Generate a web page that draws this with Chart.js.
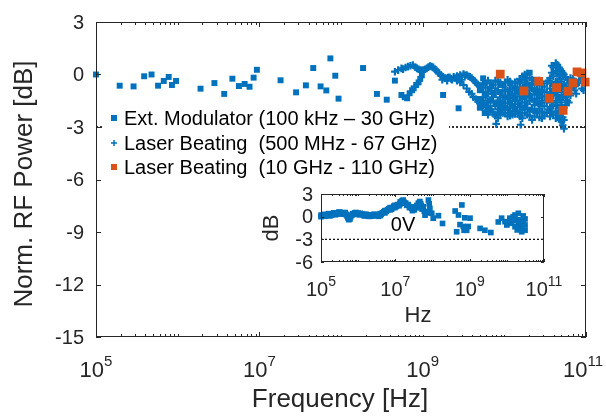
<!DOCTYPE html>
<html><head><meta charset="utf-8">
<script src="https://cdn.jsdelivr.net/npm/chart.js@4.4.0/dist/chart.umd.min.js"></script>
<style>
html,body{margin:0;padding:0;background:#fff;}
#wrap{position:relative;width:606px;height:417px;overflow:hidden;}
#main{position:absolute;left:0;top:0;}
#inset{position:absolute;left:260px;top:180px;}
</style></head><body>
<div id="wrap"><canvas id="main" width="606" height="417"></canvas><canvas id="inset" width="310" height="155"></canvas></div>
<script>
// ---------- DATA (frequency as log10(Hz), power in dB) ----------
const xTickExps = [5, 7, 9, 11];
const yTicksMain = [3, 0, -3, -6, -9, -12, -15];
const yTicksInset = [3, 0, -3, -6];
const refLevel = -3;
const legendLabels = ["Ext. Modulator (100 kHz \u2013 30 GHz)", "Laser Beating  (500 MHz - 67 GHz)", "Laser Beating  (10 GHz - 110 GHz)"];
const xTitle = "Frequency [Hz]";
const yTitle = "Norm. RF Power [dB]";
const insetXTitle = "Hz";
const insetYTitle = "dB";
const insetNote = "0V";

const extMod = [
[5.00,0.0],[5.29,-0.64],[5.46,-0.68],[5.59,-0.10],[5.68,0.0],[5.76,-0.64],[5.83,-0.37],[5.89,-0.14],[5.93,-0.6],[5.98,-0.37],
[6.28,-0.81],[6.45,-0.49],[6.57,-1.11],[6.67,-0.24],[6.75,-0.66],[6.82,-0.54],[6.88,-0.70],[6.93,-0.18],[6.97,0.27],
[7.26,-0.33],[7.45,-1.02],[7.57,-0.62],[7.66,0.37],[7.75,-0.68],[7.82,-0.91],[7.87,0.92],[7.93,-0.07],[7.97,-1.38],
[8.27,0.37],[8.44,-1.11],[8.56,-1.44],[8.66,-0.35],
[8.74,-1.17],[8.78,-1.3],[8.81,-1.36],[8.84,-1.07],[8.87,-0.9],[8.89,-0.79],[8.92,-0.6],[8.95,-0.45],[8.97,-0.25],[8.99,-0.05],
[9.25,-1.17],[9.44,-1.93],[9.74,-0.22],[9.87,-1.13],[9.99,-0.6],
[9.70,-0.9],[9.70,-1.4],[9.70,-1.9],
[9.76,-0.5],[9.76,-1.2],[9.76,-1.7],[9.76,-2.2],
[9.82,-0.8],[9.82,-1.5],[9.82,-2.0],
[9.89,-1.6],[9.89,-2.3],
[9.95,-0.6],[9.95,-1.0],[9.95,-1.8],[9.95,-2.1],
[10.01,-1.3],[10.01,-1.9],
[10.07,-0.5],[10.07,-1.1],[10.07,-1.6],[10.07,-2.2],
[10.13,-0.8],[10.13,-1.4],[10.13,-2.0],
[10.19,-0.4],[10.19,-1.0],[10.19,-1.7],[10.19,-2.3],
[10.25,-0.2],[10.25,-0.7],[10.25,-1.3],[10.25,-1.9],
[10.31,0.1],[10.31,-0.6],[10.31,-1.2],[10.31,-2.0],
[10.38,-0.3],[10.38,-0.9],[10.38,-1.5],[10.38,-2.1],
[10.44,-0.5],[10.44,-1.1],[10.44,-1.7]
];

const beat67 = [
[8.66,0.16],[8.70,0.25],[8.74,0.35],[8.76,0.31],[8.79,0.40],[8.82,0.45],[8.85,0.5],[8.88,0.54],[8.91,0.42],[8.93,0.35],
[8.95,0.3],[8.97,0.26],[8.99,0.24],[9.01,0.26],[9.03,0.3],[9.05,0.35],[9.07,0.42],[9.09,0.49],[9.11,0.45],[9.13,0.41],
[9.15,0.3],[9.17,0.22],[9.19,0.12],[9.20,0.07],[9.22,-0.05],[9.25,-0.13],[9.27,-0.2],[9.29,-0.22],[9.31,-0.18],[9.33,-0.16],
[9.35,-0.25],[9.38,-0.13],[9.40,-0.2],[9.42,-0.09],[9.44,-0.15],[9.46,-0.03],[9.48,-0.1],[9.50,0.03],[9.52,-0.05],[9.54,-0.03],
[9.56,-0.1],[9.58,-0.13],[9.60,-0.2],[9.62,-0.31],[9.64,-0.4],[9.66,-0.5],[9.68,-0.6],[9.70,-0.7],
[9.24,-0.3],[9.30,-0.35],[9.36,-0.3],[9.42,-0.35],[9.48,-0.3],
[9.46,-0.45],[9.50,-0.6],[9.54,-0.8],[9.57,-1.0],[9.60,-1.1],[9.62,-1.29],[9.65,-1.4],[9.68,-1.55],[9.70,-1.65],
[9.74,-1.75],[9.78,-1.86],[9.82,-2.0],[9.86,-2.15],[9.90,-2.82],
[9.74,-0.5],[9.74,-1.0],[9.74,-1.5],
[9.77,-0.75],[9.77,-1.25],[9.77,-2.05],
[9.80,-0.35],[9.80,-1.1],[9.80,-1.8],[9.80,-2.3],
[9.83,-0.5],[9.83,-0.95],[9.83,-1.55],[9.83,-2.1],
[9.86,-0.6],[9.86,-1.3],
[9.89,-0.35],[9.89,-0.8],[9.89,-1.1],[9.89,-1.8],[9.89,-2.35],
[9.92,-0.4],[9.92,-0.9],[9.92,-1.5],[9.92,-2.0],[9.92,-2.5],
[9.95,-0.45],[9.95,-1.3],[9.95,-1.55],[9.95,-2.3],
[9.98,-0.7],[9.98,-1.2],[9.98,-1.6],[9.98,-2.2],
[10.01,-0.45],[10.01,-0.95],[10.01,-1.65],[10.01,-2.2],
[10.04,-0.3],[10.04,-0.9],[10.04,-1.4],[10.04,-2.0],[10.04,-2.4],
[10.07,-0.4],[10.07,-0.85],[10.07,-1.35],[10.07,-1.9],[10.07,-2.35],
[10.10,-0.7],[10.10,-1.2],[10.10,-1.8],[10.10,-2.3],
[10.13,-0.45],[10.13,-1.1],[10.13,-1.7],[10.13,-2.25],
[10.16,-0.5],[10.16,-1.0],[10.16,-1.5],[10.16,-2.1],[10.20,-2.87],
[10.19,-0.25],[10.19,-0.75],[10.19,-1.25],[10.19,-1.85],[10.19,-2.4],
[10.22,-0.1],[10.22,-0.8],[10.22,-1.4],[10.22,-2.0],[10.22,-2.5],
[10.25,0.0],[10.25,-0.45],[10.25,-1.0],[10.25,-1.6],[10.25,-2.2],
[10.28,0.05],[10.28,-0.5],[10.28,-1.1],[10.28,-1.7],[10.28,-2.3],
[10.31,-0.2],[10.31,-0.9],[10.31,-1.5],[10.31,-2.35],
[10.34,-0.3],[10.34,-0.8],[10.34,-1.4],[10.34,-2.0],[10.34,-2.6],
[10.37,-0.55],[10.37,-1.15],[10.37,-1.75],[10.37,-2.4],
[10.40,-0.6],[10.40,-1.1],[10.40,-1.6],[10.40,-2.2],
[10.43,-0.35],[10.43,-0.85],[10.43,-1.35],[10.43,-1.95],[10.43,-2.45],
[10.46,-0.4],[10.46,-0.9],[10.46,-1.5],[10.46,-2.1],[10.46,-2.5],
[10.49,-0.7],[10.49,-1.25],[10.49,-1.8],[10.49,-2.35],
[10.52,-0.5],[10.52,-1.0],[10.52,-1.6],[10.52,-2.2],
[10.54,-0.35],[10.54,-1.3],[10.54,-2.0],
[10.56,-0.2],[10.56,-0.8],[10.56,-1.3],[10.56,-1.9],[10.56,-2.4],
[10.58,0.5],[10.58,0.1],[10.58,-0.5],[10.58,-1.05],[10.58,-1.6],[10.58,-2.15],
[10.60,0.4],[10.60,-0.1],[10.60,-0.6],[10.60,-1.2],[10.60,-1.8],[10.60,-2.3],
[10.63,0.65],[10.63,0.2],[10.63,-0.4],[10.63,-1.0],[10.63,-1.5],[10.63,-2.1],[10.63,-2.5],
[10.65,0.55],[10.65,0.05],[10.65,-0.45],[10.65,-1.2],[10.65,-1.75],[10.65,-2.3],
[10.67,0.4],[10.67,-0.1],[10.67,-0.7],[10.67,-1.3],[10.67,-1.9],[10.67,-2.4],
[10.685,0.3],[10.685,-0.25],[10.685,-0.85],[10.685,-1.45],[10.685,-2.05],[10.685,-2.6],
[10.70,0.2],[10.70,-0.4],[10.70,-1.0],[10.70,-1.6],[10.70,-2.2],[10.70,-2.7],
[10.715,0.1],[10.715,-0.7],[10.715,-1.3],[10.715,-2.0],[10.715,-2.45],[10.715,-2.9],
[10.73,0.0],[10.73,-0.6],[10.73,-1.2],[10.73,-1.9],[10.73,-2.6],[10.73,-3.1],
[10.75,-0.15],[10.75,-0.75],[10.75,-1.3],[10.75,-1.75],
[10.77,-0.3],[10.77,-0.9],[10.77,-1.5],
[10.79,-0.5],[10.79,-1.05],[10.79,-1.6],
[10.81,-0.2],[10.81,-0.7],[10.81,-1.2],
[10.84,-0.25],[10.84,-0.7],
[10.86,-0.4],[10.86,-0.9],
[10.88,-0.6],[10.88,-1.1],
[10.90,0.1],[10.90,-0.5],
[10.93,-0.3],
[10.95,-0.2],[10.95,-0.8],
[10.97,-0.1],[10.97,-0.9],
[10.99,-0.5]
];

const beat110 = [
[9.95,0.02],[10.24,-0.94],[10.42,-0.39],[10.55,-1.36],[10.64,-0.75],[10.72,-2.05],[10.78,-0.96],[10.84,-0.48],[10.89,0.15],[10.95,0.09],[10.99,-0.43]
];

const inset0V = [
[5.00,0.0],[5.00,0.2],[5.03,0.15],[5.05,0.1],[5.08,0.3],[5.11,0.05],[5.11,0.25],[5.14,0.15],[5.17,0.2],[5.20,0.4],[5.24,0.1],[5.24,0.35],
[5.27,0.2],[5.31,0.3],[5.34,0.5],[5.38,0.25],[5.38,0.5],[5.41,0.35],[5.45,0.4],[5.48,0.6],[5.51,0.35],[5.51,0.6],[5.55,0.45],[5.58,0.5],
[5.61,0.35],[5.65,0.3],[5.65,0.55],[5.68,0.3],[5.70,0.1],[5.72,-0.05],[5.73,-0.2],[5.75,-0.4],[5.76,-0.1],[5.78,-0.3],[5.80,0.0],
[5.83,0.2],[5.85,0.4],[5.88,0.35],[5.91,0.5],[5.94,0.3],[5.94,0.55],[5.97,0.4],[6.00,0.45],[6.02,0.3],[6.05,0.25],[6.05,0.45],
[6.09,0.35],[6.12,0.3],[6.15,0.15],[6.18,0.1],[6.18,0.3],[6.22,0.3],[6.25,0.2],[6.28,0.05],[6.32,0.05],[6.32,0.25],[6.35,0.1],
[6.38,0.15],[6.42,0.3],[6.45,0.1],[6.45,0.3],[6.48,0.2],[6.52,0.25],[6.55,0.05],[6.59,0.15],[6.59,0.4],[6.62,0.3],[6.65,0.5],
[6.69,0.65],[6.72,0.5],[6.72,0.8],[6.76,0.7],[6.79,0.9],[6.82,1.05],[6.86,0.9],[6.86,1.2],[6.90,1.0],[6.93,1.2],[6.96,1.4],
[6.99,1.2],[6.99,1.5],[7.03,1.35],[7.06,1.6],[7.10,1.45],[7.13,1.7],[7.13,1.95],[7.16,1.8],[7.18,2.1],[7.21,2.2],[7.24,1.9],
[7.28,1.8],[7.31,1.5],[7.35,1.6],[7.38,1.2],[7.40,1.3],[7.44,1.1],[7.46,0.8],[7.48,1.0],[7.51,0.9],[7.53,1.3],[7.56,1.2],[7.58,1.5],
[7.60,1.2],[7.62,1.8],[7.64,1.5],[7.66,2.0],[7.68,1.7],[7.70,1.5],[7.72,1.0],[7.75,1.3],[7.78,0.7],
[7.80,0.2],[7.85,0.5],[7.89,2.2],[7.91,1.7],[7.93,1.1],[7.98,0.45],[8.02,-0.2],[8.16,0.13],[8.27,-0.9],
[8.61,0.75],[8.65,-2.0],[8.70,0.22],[8.74,-1.05],[8.79,1.55],[8.83,-1.3],[8.85,-1.8],[8.87,-0.15],[8.92,-1.8],[8.96,-1.3],[9.01,-0.2],
[9.28,-1.55],[9.41,-1.8],[9.57,-2.1],
[9.77,-0.7],[9.86,-0.2],[9.95,-0.66],[10.00,-1.1],[10.08,-0.2],[10.08,-0.8],[10.13,-0.88],[10.17,0.0],[10.22,0.22],[10.22,-1.33],
[10.27,-0.4],[10.28,-1.76],[10.31,0.45],[10.31,-0.9],[10.35,-0.44],[10.35,-1.3],[10.40,-1.1],[10.40,-1.55],[10.40,-2.0],
[10.44,-0.66],[10.44,0.1],[10.49,-1.1],[10.49,-0.3],[10.49,-1.8],[10.20,-0.5],[10.13,-0.3]
];

// ---------- helpers ----------
const toPts = arr => arr.map(p => ({x: Math.pow(10, p[0]), y: p[1]}));
const BLUE = '#0072BD', ORANGE = '#D95319', TXT = '#262626', AXC = '#262626';
const FONT = '"Liberation Sans", Arial, Helvetica, sans-serif';

function drawLogTicks(ctx, xs, a, majorExps, minExp, maxExp, majLen, minLen) {
  ctx.beginPath();
  for (let e = minExp; e <= maxExp; e++) {
    for (let m = 1; m <= 9; m++) {
      if (e === maxExp && m > 1) break;
      const v = m * Math.pow(10, e);
      const px = Math.round(xs.getPixelForValue(v)) + 0.5;
      const len = (m === 1 && majorExps.includes(e)) ? majLen : minLen;
      ctx.moveTo(px, a.bottom); ctx.lineTo(px, a.bottom - len);
      ctx.moveTo(px, a.top); ctx.lineTo(px, a.top + len);
    }
  }
  ctx.stroke();
}
function drawYTicks(ctx, ys, a, ticks, len) {
  ctx.beginPath();
  ticks.forEach(t => {
    const py = Math.round(ys.getPixelForValue(t)) + 0.5;
    ctx.moveTo(a.left, py); ctx.lineTo(a.left + len, py);
    ctx.moveTo(a.right, py); ctx.lineTo(a.right - len, py);
  });
  ctx.stroke();
}
function drawPow10(ctx, exp, cx, baseY, big, small, supRise, maxRight) {
  ctx.font = big + 'px ' + FONT;
  const w1 = ctx.measureText('10').width;
  ctx.font = small + 'px ' + FONT;
  const w2 = ctx.measureText(String(exp)).width;
  let x0 = cx - (w1 + w2) / 2;
  if (x0 + w1 + w2 > maxRight) x0 = maxRight - w1 - w2;
  ctx.textAlign = 'left'; ctx.textBaseline = 'alphabetic';
  ctx.font = big + 'px ' + FONT;
  ctx.fillText('10', x0, baseY);
  ctx.font = small + 'px ' + FONT;
  ctx.fillText(String(exp), x0 + w1, baseY - supRise);
}

// ---------- main chart ----------
const mainDeco = {
  id: 'mainDeco',
  beforeDraw(c) { const ctx = c.ctx; ctx.save(); ctx.fillStyle = '#fff'; ctx.fillRect(0, 0, c.width, c.height); ctx.restore(); },
  afterDatasetsDraw(c) {
    const ctx = c.ctx, a = c.chartArea, xs = c.scales.x, ys = c.scales.y;
    ctx.save();
    // legend
    ctx.fillStyle = '#fff';
    ctx.fillRect(104, 105, 345, 75);
    const rows = [118, 143, 167];
    ctx.fillStyle = BLUE; ctx.fillRect(111, rows[0] - 3, 6, 6);
    ctx.strokeStyle = BLUE; ctx.lineWidth = 1.5; ctx.beginPath();
    ctx.moveTo(111, rows[1]); ctx.lineTo(117, rows[1]); ctx.moveTo(114, rows[1] - 3); ctx.lineTo(114, rows[1] + 3); ctx.stroke();
    ctx.fillStyle = ORANGE; ctx.fillRect(111, rows[2] - 3, 6, 6);
    ctx.fillStyle = '#000'; ctx.font = '20px ' + FONT; ctx.textAlign = 'left'; ctx.textBaseline = 'middle';
    legendLabels.forEach((t, i) => ctx.fillText(t, 124, rows[i] + 1));
    // box + ticks
    ctx.strokeStyle = AXC; ctx.lineWidth = 1;
    ctx.strokeRect(Math.round(a.left) + 0.5, Math.round(a.top) + 0.5, Math.round(a.width) - 1, Math.round(a.height) - 1);
    drawLogTicks(ctx, xs, a, xTickExps, 5, 11, 5, 3);
    drawYTicks(ctx, ys, a, yTicksMain, 5);
    // tick labels
    ctx.fillStyle = TXT; ctx.font = '20px ' + FONT; ctx.textAlign = 'right'; ctx.textBaseline = 'middle';
    yTicksMain.forEach(t => ctx.fillText(String(t), 84, ys.getPixelForValue(t) + 1));
    xTickExps.forEach(e => drawPow10(ctx, e, xs.getPixelForValue(Math.pow(10, e)), 377, 22, 15, 11, 603));
    // titles
    ctx.font = '26px ' + FONT; ctx.textAlign = 'center'; ctx.textBaseline = 'middle';
    ctx.fillText(xTitle, 340, 400);
    ctx.translate(25, 184); ctx.rotate(-Math.PI / 2); ctx.fillText(yTitle, 0, 0);
    ctx.restore();
  }
};

new Chart(document.getElementById('main'), {
  type: 'scatter',
  data: {
    datasets: [
      {label: 'ref', type: 'line', data: [{x: 1e5, y: refLevel}, {x: 1e11, y: refLevel}], borderColor: '#000', borderWidth: 1.6, borderDash: [2, 2], pointRadius: 0, order: 5},
      {label: legendLabels[0], data: toPts(extMod), pointStyle: 'rect', pointRadius: 4.2, backgroundColor: BLUE, borderWidth: 0, order: 3, clip: false},
      {label: legendLabels[1], data: toPts(beat67), pointStyle: 'cross', pointRadius: 3.8, borderColor: BLUE, borderWidth: 2.2, order: 2},
      {label: legendLabels[2], data: toPts(beat110), pointStyle: 'rect', pointRadius: 6.2, backgroundColor: ORANGE, borderWidth: 0, order: 1, clip: false}
    ]
  },
  options: {
    responsive: false, animation: false, devicePixelRatio: 1,
    layout: {padding: {left: 96, right: 20, top: 22, bottom: 80}},
    plugins: {legend: {display: false}, tooltip: {enabled: false}},
    scales: {
      x: {type: 'logarithmic', min: 1e5, max: 1e11, display: false},
      y: {type: 'linear', min: -15, max: 3, display: false}
    }
  },
  plugins: [mainDeco]
});

// ---------- inset chart ----------
const insetDeco = {
  id: 'insetDeco',
  beforeDraw(c) { const ctx = c.ctx; ctx.save(); ctx.fillStyle = '#fff'; ctx.fillRect(0, 0, c.width, c.height); ctx.restore(); },
  afterDatasetsDraw(c) {
    const ctx = c.ctx, a = c.chartArea, xs = c.scales.x, ys = c.scales.y;
    ctx.save();
    ctx.strokeStyle = AXC; ctx.lineWidth = 1;
    ctx.strokeRect(Math.round(a.left) + 0.5, Math.round(a.top) + 0.5, Math.round(a.width) - 1, Math.round(a.height) - 1);
    drawLogTicks(ctx, xs, a, [5, 7, 9, 11], 5, 11, 3, 2);
    drawYTicks(ctx, ys, a, yTicksInset, 3);
    ctx.fillStyle = TXT; ctx.font = '20px ' + FONT; ctx.textAlign = 'right'; ctx.textBaseline = 'middle';
    yTicksInset.forEach(t => ctx.fillText(String(t), 53, ys.getPixelForValue(t) + 1));
    xTickExps.forEach(e => drawPow10(ctx, e, xs.getPixelForValue(Math.pow(10, e)), 116, 20, 14, 10, 310));
    ctx.fillStyle = '#000'; ctx.font = '20px ' + FONT; ctx.textAlign = 'center';
    ctx.fillText(insetNote, 143, 51);
    ctx.fillStyle = TXT; ctx.font = '22px ' + FONT;
    ctx.fillText(insetXTitle, 158, 142);
    ctx.translate(18, 48); ctx.rotate(-Math.PI / 2); ctx.fillText(insetYTitle, 0, 0);
    ctx.restore();
  }
};

new Chart(document.getElementById('inset'), {
  type: 'scatter',
  data: {
    datasets: [
      {label: 'ref', type: 'line', data: [{x: 1e5, y: refLevel}, {x: 1e11, y: refLevel}], borderColor: '#000', borderWidth: 1.2, borderDash: [2, 2], pointRadius: 0, order: 5},
      {label: insetNote, data: toPts(inset0V), pointStyle: 'rect', pointRadius: 4, backgroundColor: BLUE, borderWidth: 0, order: 1, clip: false}
    ]
  },
  options: {
    responsive: false, animation: false, devicePixelRatio: 1,
    layout: {padding: {left: 61, right: 26, top: 14, bottom: 73}},
    plugins: {legend: {display: false}, tooltip: {enabled: false}},
    scales: {
      x: {type: 'logarithmic', min: 1e5, max: 1e11, display: false},
      y: {type: 'linear', min: -6, max: 3, display: false}
    }
  },
  plugins: [insetDeco]
});
</script>
</body></html>
